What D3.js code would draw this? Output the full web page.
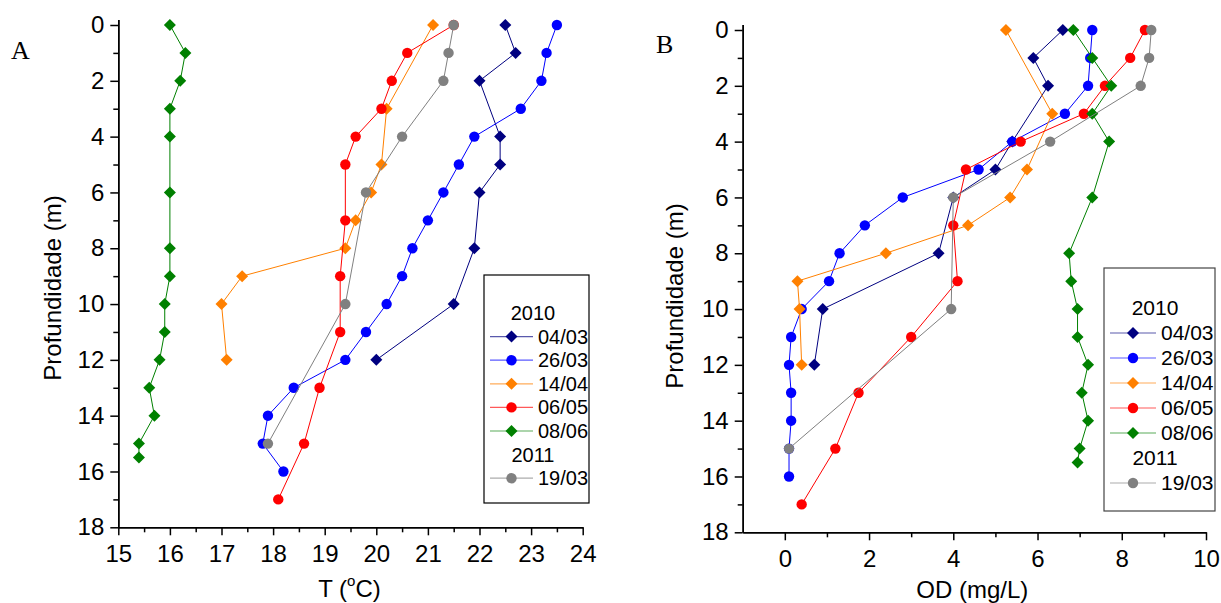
<!doctype html>
<html lang="pt-br">
<head>
<meta charset="UTF-8">
<title>Perfis T e OD</title>
<script src="https://d3js.org/d3.v7.min.js"></script>
<style>
    body { margin: 0; background: #fff; }
    svg { display: block; font-family: Arial, "Liberation Sans", sans-serif; }
</style>
</head>
<body>
<script>
    // series (legend order)
    var seriesNames  = ['04/03', '26/03', '14/04', '06/05', '08/06', '19/03'];
    var seriesYears  = ['2010', '2010', '2010', '2010', '2010', '2011'];
    var seriesColors = ['#000080', '#0000ff', '#ff8000', '#ff0000', '#008000', '#808080'];
    var seriesShapes = ['diamond', 'circle', 'diamond', 'circle', 'diamond', 'circle'];

    // depths (m) of each profile
    var depth0403 = [0, 1, 2, 4, 5, 6, 8, 10, 12];
    var depth2603 = [0, 1, 2, 3, 4, 5, 6, 7, 8, 9, 10, 11, 12, 13, 14, 15, 16];
    var depth1404 = [0, 3, 5, 6, 7, 8, 9, 10, 12];
    var depth0605 = [0, 1, 2, 3, 4, 5, 7, 9, 11, 13, 15, 17];
    var depth0806 = [0, 1, 2, 3, 4, 6, 8, 9, 10, 11, 12, 13, 14, 15, 15.5];
    var depth1903 = [0, 1, 2, 4, 6, 10, 15];

    // temperature (oC)
    var temp0403 = [22.5, 22.7, 22.0, 22.4, 22.4, 22.0, 21.9, 21.5, 20.0];
    var temp2603 = [23.5, 23.3, 23.2, 22.8, 21.9, 21.6, 21.3, 21.0, 20.7, 20.5, 20.2, 19.8, 19.4, 18.4, 17.9, 17.8, 18.2];
    var temp1404 = [21.1, 20.2, 20.1, 19.9, 19.6, 19.4, 17.4, 17.0, 17.1];
    var temp0605 = [21.5, 20.6, 20.3, 20.1, 19.6, 19.4, 19.4, 19.3, 19.3, 18.9, 18.6, 18.1];
    var temp0806 = [16.0, 16.3, 16.2, 16.0, 16.0, 16.0, 16.0, 16.0, 15.9, 15.9, 15.8, 15.6, 15.7, 15.4, 15.4];
    var temp1903 = [21.5, 21.4, 21.3, 20.5, 19.8, 19.4, 17.9];

    // dissolved oxygen (mg/L)
    var od0403 = [6.6, 5.9, 6.25, 5.4, 5.0, 4.0, 3.65, 0.9, 0.7];
    var od2603 = [7.3, 7.25, 7.2, 6.65, 5.4, 4.6, 2.8, 1.9, 1.3, 1.05, 0.4, 0.15, 0.1, 0.15, 0.15, 0.1, 0.1];
    var od1404 = [5.25, 6.35, 5.75, 5.35, 4.35, 2.4, 0.3, 0.35, 0.4];
    var od0605 = [8.55, 8.2, 7.6, 7.1, 5.6, 4.3, 4.0, 4.1, 3.0, 1.75, 1.2, 0.4];
    var od0806 = [6.85, 7.3, 7.75, 7.3, 7.7, 7.3, 6.75, 6.8, 6.95, 6.95, 7.2, 7.05, 7.2, 7.0, 6.95];
    var od1903 = [8.7, 8.65, 8.45, 6.3, 4.0, 3.95, 0.1];

    // axis ticks
    var depthTicks = [0, 2, 4, 6, 8, 10, 12, 14, 16, 18];
    var depthMinor = [1, 3, 5, 7, 9, 11, 13, 15, 17];
    var tempTicks = [15, 16, 17, 18, 19, 20, 21, 22, 23, 24];
    var tempMinor = [15.5, 16.5, 17.5, 18.5, 19.5, 20.5, 21.5, 22.5, 23.5];
    var odTicks = [0, 2, 4, 6, 8, 10];
    var odMinor = [1, 3, 5, 7, 9];

    var depths = [depth0403, depth2603, depth1404, depth0605, depth0806, depth1903];
    var temps = [temp0403, temp2603, temp1404, temp0605, temp0806, temp1903];
    var ods = [od0403, od2603, od1404, od0605, od0806, od1903];

    var width = 1221, height = 603;
    var svg = d3.select('body').append('svg')
        .attr('width', width)
        .attr('height', height);

    function buildSeries(values) {
        return seriesNames.map(function(name, i) {
            return {
                name: name,
                color: seriesColors[i],
                shape: seriesShapes[i],
                points: depths[i].map(function(d, j) { return {d: d, v: values[i][j]}; })
            };
        });
    }

    function drawMarker(sel, shape, color) {
        if (shape == 'circle') {
            sel.append('circle').attr('r', 5.2).attr('fill', color);
        } else {
            sel.append('path').attr('d', 'M0,-6L6,0L0,6L-6,0Z').attr('fill', color);
        }
    }

    function styleAxis(g, fontSize) {
        g.select('.domain').attr('stroke', '#000').attr('stroke-width', 1.5);
        g.selectAll('.tick line').attr('stroke', '#000').attr('stroke-width', 1.5);
        g.selectAll('text').attr('font-size', fontSize).attr('font-family', 'Arial, "Liberation Sans", sans-serif').attr('fill', '#000');
        g.attr('font-family', null).attr('font-size', null);
    }

    function drawPanel(p) {
        var x = d3.scaleLinear().domain(p.xDomain).range([p.left, p.right]);
        var y = d3.scaleLinear().domain([-0.2, 18]).range([p.top - 0.2 * (p.bottom - p.top) / 18, p.bottom]);
        var g = svg.append('g');

        // minor ticks first
        var yMin = g.append('g').attr('transform', 'translate(' + p.left + ',0)')
            .call(d3.axisLeft(y).tickValues(depthMinor).tickSize(5).tickSizeOuter(0).tickFormat(''));
        styleAxis(yMin, 24);
        var xMin = g.append('g').attr('transform', 'translate(0,' + p.bottom + ')')
            .call(d3.axisBottom(x).tickValues(p.xMinor).tickSize(5).tickSizeOuter(0).tickFormat(''));
        styleAxis(xMin, 24);

        var yAx = g.append('g').attr('transform', 'translate(' + p.left + ',0)')
            .call(d3.axisLeft(y).tickValues(depthTicks).tickSize(8).tickPadding(6).tickSizeOuter(0));
        styleAxis(yAx, 24);
        var xAx = g.append('g').attr('transform', 'translate(0,' + p.bottom + ')')
            .call(d3.axisBottom(x).tickValues(p.xTicks).tickSize(8).tickPadding(10).tickSizeOuter(0));
        styleAxis(xAx, 24);

        // titles
        g.append('text')
            .attr('transform', 'translate(' + p.yTitleX + ',' + p.yTitleY + ') rotate(-90)')
            .attr('text-anchor', 'middle')
            .attr('font-size', 24)
            .text('Profundidade (m)');
        var xt = g.append('text')
            .attr('x', (p.left + p.right) / 2 + p.xTitleShift)
            .attr('y', p.xTitleY)
            .attr('text-anchor', 'middle')
            .attr('font-size', 24);
        if (p.xTitle == 'T') {
            xt.append('tspan').text('T (');
            xt.append('tspan').attr('font-size', 15).attr('dy', -11).text('o');
            xt.append('tspan').attr('dy', 11).text('C)');
        } else {
            xt.text(p.xTitle);
        }
        g.append('text')
            .attr('x', p.letterX).attr('y', p.letterY)
            .attr('font-family', '"Liberation Serif", "Times New Roman", serif')
            .attr('font-size', 26)
            .text(p.letter);

        // series
        var series = buildSeries(p.values);
        var line = d3.line().x(function(d) { return x(d.v); }).y(function(d) { return y(d.d); });
        series.forEach(function(s) {
            var sg = g.append('g');
            sg.append('path')
                .attr('d', line(s.points))
                .attr('fill', 'none')
                .attr('stroke', s.color)
                .attr('stroke-width', 1);
            s.points.forEach(function(pt) {
                var m = sg.append('g').attr('transform', 'translate(' + x(pt.v) + ',' + y(pt.d) + ')');
                drawMarker(m, s.shape, s.color);
            });
        });

        // legend
        var L = p.legend;
        g.append('rect')
            .attr('x', L.x).attr('y', L.y).attr('width', L.w).attr('height', L.h)
            .attr('fill', '#fff').attr('stroke', L.stroke).attr('stroke-width', 1.2);
        var rows = [];
        var lastYear = null;
        seriesNames.forEach(function(name, i) {
            if (seriesYears[i] != lastYear) {
                rows.push({header: seriesYears[i]});
                lastYear = seriesYears[i];
            }
            rows.push({name: name, color: seriesColors[i], shape: seriesShapes[i]});
        });
        rows.forEach(function(r, k) {
            var ry = L.firstRow + k * L.step;
            if (r.header) {
                g.append('text').attr('x', L.headerX).attr('y', ry).attr('dy', '0.35em')
                    .attr('text-anchor', 'middle').attr('font-size', L.font).text(r.header);
                return;
            }
            g.append('line').attr('x1', L.lineX1).attr('x2', L.lineX2).attr('y1', ry).attr('y2', ry)
                .attr('stroke', r.color).attr('stroke-opacity', 0.65).attr('stroke-width', 1.2);
            var m = g.append('g').attr('transform', 'translate(' + ((L.lineX1 + L.lineX2) / 2) + ',' + ry + ')');
            drawMarker(m, r.shape, r.color);
            g.append('text').attr('x', L.textX).attr('y', ry).attr('dy', '0.35em')
                .attr('font-size', L.font).text(r.name);
        });
    }

    drawPanel({
        left: 118.3, right: 582.7, top: 25, bottom: 527.3,
        xDomain: [15, 24], xTicks: tempTicks, xMinor: tempMinor,
        values: temps, xTitle: 'T', xTitleY: 597, xTitleShift: -1,
        yTitleX: 61, yTitleY: 288,
        letter: 'A', letterX: 11, letterY: 59,
        legend: {x: 484, y: 275, w: 105, h: 228, stroke: '#000', firstRow: 313, step: 23.6,
                 headerX: 533, lineX1: 490, lineX2: 533, textX: 538, font: 20}
    });

    drawPanel({
        left: 742.7, right: 1206, top: 30, bottom: 532.3,
        xDomain: [-1, 10], xTicks: odTicks, xMinor: odMinor,
        values: ods, xTitle: 'OD (mg/L)', xTitleY: 598, xTitleShift: -2,
        yTitleX: 683, yTitleY: 296,
        letter: 'B', letterX: 656, letterY: 53,
        legend: {x: 1104, y: 268, w: 111, h: 243, stroke: '#444', firstRow: 308, step: 25,
                 headerX: 1155, lineX1: 1110, lineX2: 1156, textX: 1161, font: 21}
    });
</script>
</body>
</html>
